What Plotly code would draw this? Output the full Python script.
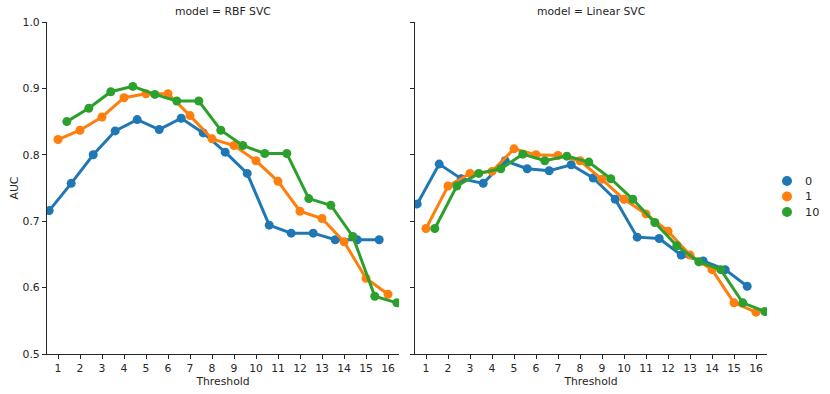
import plotly.graph_objects as go

thresholds = [str(i) for i in range(1, 17)]
hue_levels = ["0", "1", "10"]
colors = ["#1f77b4", "#ff7f0e", "#2ca02c"]
models = ["RBF SVC", "Linear SVC"]

rbf_c0 = [0.716, 0.757, 0.800, 0.836, 0.853, 0.838, 0.855, 0.833, 0.804, 0.772,
          0.694, 0.682, 0.682, 0.672, 0.672, 0.672]
rbf_c1 = [0.823, 0.837, 0.857, 0.886, 0.892, 0.892, 0.859, 0.824, 0.814, 0.791,
          0.760, 0.715, 0.704, 0.669, 0.614, 0.590]
rbf_c10 = [0.850, 0.870, 0.895, 0.903, 0.891, 0.881, 0.881, 0.837, 0.814, 0.802,
           0.802, 0.734, 0.724, 0.677, 0.587, 0.577]

lin_c0 = [0.726, 0.786, 0.764, 0.757, 0.791, 0.779, 0.776, 0.785, 0.765, 0.733,
          0.676, 0.674, 0.649, 0.640, 0.627, 0.602]
lin_c1 = [0.689, 0.753, 0.772, 0.775, 0.809, 0.800, 0.799, 0.791, 0.763, 0.733,
          0.711, 0.685, 0.649, 0.627, 0.577, 0.563]
lin_c10 = [0.689, 0.753, 0.772, 0.779, 0.801, 0.791, 0.798, 0.789, 0.764, 0.733,
           0.698, 0.663, 0.639, 0.627, 0.577, 0.564]

data = {
    "RBF SVC": [rbf_c0, rbf_c1, rbf_c10],
    "Linear SVC": [lin_c0, lin_c1, lin_c10],
}

dodge = 0.8
n_hue = len(hue_levels)
offsets = [-dodge / 2 + i * dodge / (n_hue - 1) for i in range(n_hue)]

FONT = "DejaVu Sans"
FS = 10.8
AXC = "#262626"

fig = go.Figure()
for mi, model in enumerate(models):
    xa = "x" if mi == 0 else "x2"
    ya = "y" if mi == 0 else "y2"
    for hi, (h, col) in enumerate(zip(hue_levels, colors)):
        vals = data[model][hi]
        xs = [i + offsets[hi] for i in range(len(thresholds))]
        fig.add_trace(go.Scatter(
            x=xs, y=vals, mode="lines+markers", name=h,
            line=dict(color=col, width=3),
            marker=dict(color=col, size=9),
            xaxis=xa, yaxis=ya, showlegend=False, hoverinfo="skip",
        ))

W, H = 830, 394
ml, mr, mt, mb = 47, 63, 22, 40
pw = W - ml - mr
ph = H - mt - mb
left_end = (399 - ml) / pw
right_start = (415 - ml) / pw

xcommon = dict(
    range=[-0.5, len(thresholds) - 0.5],
    tickmode="array",
    tickvals=list(range(len(thresholds))),
    ticktext=thresholds,
    showline=True, linecolor=AXC, linewidth=1.2,
    ticks="outside", ticklen=4, tickcolor=AXC, tickwidth=1,
    showgrid=False, zeroline=False,
    tickfont=dict(family=FONT, size=FS, color=AXC),
)
ycommon = dict(
    range=[0.5, 1.0],
    tickmode="array",
    tickvals=[0.5, 0.6, 0.7, 0.8, 0.9, 1.0],
    showline=True, linecolor=AXC, linewidth=1.2,
    ticks="outside", ticklen=4, tickcolor=AXC, tickwidth=1,
    showgrid=False, zeroline=False,
    tickfont=dict(family=FONT, size=FS, color=AXC),
)

# legend drawn as marker circles + labels (matplotlib-like compact spacing)
leg_x = (787 - ml) / pw
leg_text_x = (803 - ml) / pw
leg_ys = [(354 - 181) / ph, (354 - 196.5) / ph, (354 - 212) / ph]
shapes = []
annotations = [
    dict(text="model = " + models[0], x=left_end / 2, y=1, xref="paper",
         yref="paper", xanchor="center", yanchor="bottom", yshift=2,
         showarrow=False, font=dict(family=FONT, size=FS, color=AXC)),
    dict(text="model = " + models[1], x=(right_start + 1) / 2, y=1,
         xref="paper", yref="paper", xanchor="center", yanchor="bottom",
         yshift=2, showarrow=False,
         font=dict(family=FONT, size=FS, color=AXC)),
]
for h, col, ly in zip(hue_levels, colors, leg_ys):
    shapes.append(dict(
        type="circle", xref="paper", yref="paper",
        xsizemode="pixel", ysizemode="pixel",
        xanchor=leg_x, yanchor=ly, x0=-5, x1=5, y0=-5, y1=5,
        fillcolor=col, line=dict(width=0),
    ))
    annotations.append(dict(
        text=h, x=leg_text_x, y=ly, xref="paper", yref="paper",
        xanchor="left", yanchor="middle", showarrow=False,
        font=dict(family=FONT, size=FS + 0.5, color=AXC),
    ))

fig.update_layout(
    width=W, height=H,
    margin=dict(l=ml, r=mr, t=mt, b=mb, autoexpand=False),
    paper_bgcolor="white", plot_bgcolor="white",
    font=dict(family=FONT, size=FS, color=AXC),
    xaxis=dict(domain=[0, left_end], anchor="y", **xcommon,
               title=dict(text="Threshold", standoff=2,
                          font=dict(family=FONT, size=FS, color=AXC))),
    xaxis2=dict(domain=[right_start, 1], anchor="y2", **xcommon,
                title=dict(text="Threshold", standoff=2,
                           font=dict(family=FONT, size=FS, color=AXC))),
    yaxis=dict(domain=[0, 1], anchor="x", tickformat=".1f", **ycommon,
               title=dict(text="AUC", standoff=1,
                          font=dict(family=FONT, size=FS, color=AXC))),
    yaxis2=dict(domain=[0, 1], anchor="x2", matches="y",
                showticklabels=False, **ycommon),
    showlegend=False,
    shapes=shapes,
    annotations=annotations,
)

fig.write_html("out.html",
               config={"displayModeBar": False},
               post_script="document.body.style.margin='0';")
